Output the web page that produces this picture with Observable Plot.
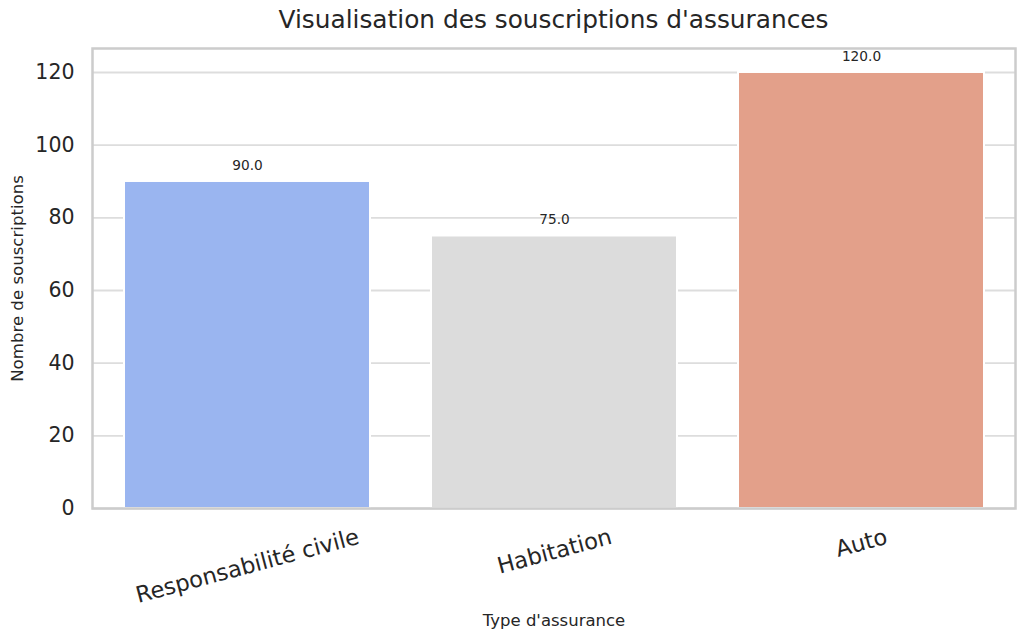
<!DOCTYPE html>
<html>
<head>
<meta charset="utf-8">
<script src="https://cdn.jsdelivr.net/npm/d3@7"></script>
<script src="https://cdn.jsdelivr.net/npm/@observablehq/plot@0.6"></script>
<style>
  html, body { margin: 0; padding: 0; background: #fff; }
  body { width: 1024px; height: 639px; overflow: hidden; font-family: "DejaVu Sans", sans-serif; }
  #title { height: 40px; line-height: 40px; box-sizing: border-box; padding-left: 83px; text-align: center;
           font-size: 24.8px; color: #262626; white-space: nowrap; }
  svg { display: block; }
</style>
</head>
<body>
<div id="title">Visualisation des souscriptions d'assurances</div>
<div id="chart"></div>
<script>
const categories = ["Responsabilité civile", "Habitation", "Auto"];
const values = [90, 75, 120];
const colors = ["#9ab5f0", "#dcdcdc", "#e3a08a"];
const yTicks = [0, 20, 40, 60, 80, 100, 120];
const xLabel = "Type d'assurance";
const yLabel = "Nombre de souscriptions";

const data = categories.map((c, i) => ({category: c, value: values[i]}));

const tickFont = 22.6;
const ctx = document.createElement("canvas").getContext("2d");
ctx.font = `${tickFont}px "DejaVu Sans"`;
const rad = 15 * Math.PI / 180;
const tickMarks = categories.map(c => {
  const w = ctx.measureText(c).width;
  const h = w * Math.sin(rad) + tickFont * 1.0 * Math.cos(rad);
  return Plot.text([c], {
    x: d => d, frameAnchor: "bottom", dy: 17 + h / 2,
    rotate: -15, textAnchor: "middle", lineAnchor: "middle",
    fontSize: tickFont, fill: "#262626"
  });
});

const chart = Plot.plot({
  width: 1024,
  height: 599,
  marginTop: 8,
  marginBottom: 131,
  marginLeft: 92,
  marginRight: 9,
  style: {fontFamily: "DejaVu Sans, sans-serif", background: "#fff", color: "#262626"},
  x: {domain: categories, paddingInner: 0.2, paddingOuter: 0.1, axis: null},
  y: {domain: [0, 126.6], ticks: yTicks, label: null},
  color: {domain: categories, range: colors},
  marks: [
    Plot.gridY(yTicks, {stroke: "#dddddd", strokeOpacity: 1, strokeWidth: 1.8}),
    Plot.barY(data, {x: "category", y: "value", fill: "category", stroke: "#fff", strokeWidth: 2}),
    Plot.text(data, {x: "category", y: "value", text: d => d.value.toFixed(1), dy: -16,
                     lineAnchor: "middle", fontSize: 13.7, fill: "#262626"}),
    Plot.axisY(yTicks, {tickSize: 0, tickPadding: 18, fontSize: 20.5, fill: "#262626", label: null,
                        tickFormat: d => String(d)}),
    ...tickMarks,
    Plot.text([yLabel], {frameAnchor: "left", dx: -75, rotate: -90, fontSize: 16.6, fill: "#262626",
                         textAnchor: "middle", lineAnchor: "middle"}),
    Plot.text([xLabel], {frameAnchor: "bottom", dy: 112, fontSize: 16.5, fill: "#262626",
                         textAnchor: "middle", lineAnchor: "middle"}),
    Plot.frame({stroke: "#cccccc", strokeWidth: 2.5})
  ]
});
document.getElementById("chart").appendChild(chart);
</script>
</body>
</html>
